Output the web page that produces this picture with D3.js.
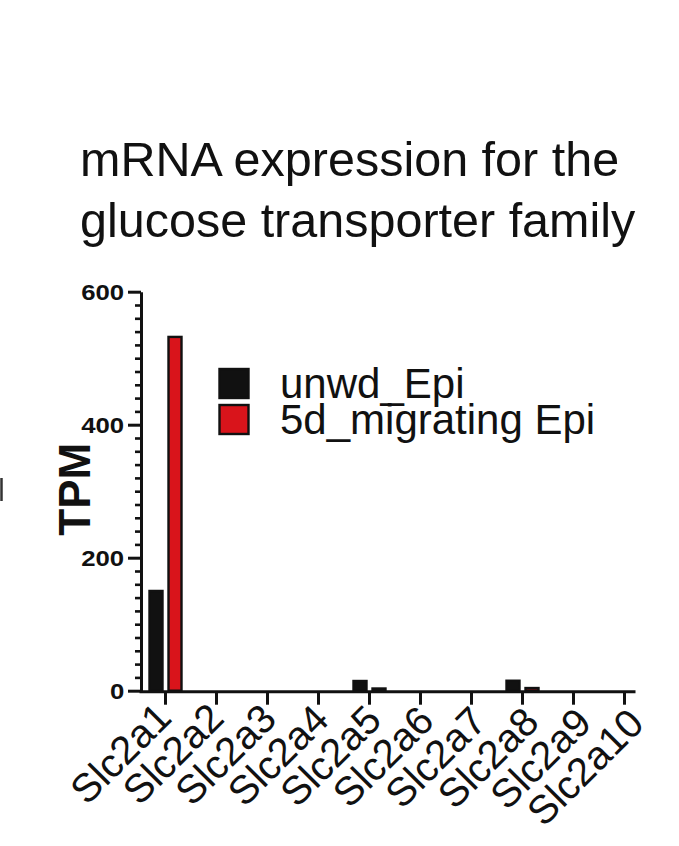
<!DOCTYPE html>
<html>
<head>
<meta charset="utf-8">
<script src="https://cdn.jsdelivr.net/npm/d3@7"></script>
<style>
  html, body { margin: 0; padding: 0; background: #fff; }
  svg { display: block; }
  text { font-family: "Liberation Sans", Arial, Helvetica, sans-serif; fill: #111; }
</style>
</head>
<body>
<svg id="chart" width="679" height="846"></svg>
<script>
const categories = ["Slc2a1","Slc2a2","Slc2a3","Slc2a4","Slc2a5","Slc2a6","Slc2a7","Slc2a8","Slc2a9","Slc2a10"];
const seriesNames = ["unwd_Epi","5d_migrating Epi"];
const unwdEpi = [150, 0, 0, 0, 14.6, 0, 0, 15, 0, 0];
const migratingEpi = [532, 0, 0, 0, 3.3, 0, 0, 4, 0, 0];
const seriesColors = ["#111111", "#d9141b"];
const yTicks = [0, 200, 400, 600];
const titleLines = ["mRNA expression for the", "glucose transporter family"];
const yLabel = "TPM";

const svg = d3.select("#chart");
const values = [unwdEpi, migratingEpi];

const plotLeft = 141, plotRight = 650, plotTop = 291.7, plotBottom = 690.7;

const x = d3.scaleBand().domain(categories).range([plotLeft - 1, plotRight]).padding(0);
const x1 = d3.scaleBand().domain(seriesNames)
  .range([x.bandwidth() / 2 - 16, x.bandwidth() / 2 + 16])
  .paddingInner(0.316).paddingOuter(0);
const y = d3.scaleLinear().domain([0, 600]).range([plotBottom, plotTop]);
// label placement scales (labels fan out slightly wider than the ticks)
const xLabel = d3.scaleBand().domain(categories).range([plotLeft - 1.75, plotLeft - 1.75 + 525]);
const yLabelOffset = d3.scaleLinear().domain([0, categories.length - 1]).range([29, 35]);

// title
svg.append("g").selectAll("text").data(titleLines).join("text")
  .attr("x", 80).attr("y", (d, i) => 176 + i * 61)
  .attr("font-size", 48.5).text(d => d);

// bars
const groups = svg.append("g").selectAll("g").data(categories).join("g")
  .attr("transform", d => `translate(${x(d)},0)`);
groups.selectAll("rect")
  .data((d, i) => seriesNames.map((s, k) => ({ s, k, v: values[k][i] })))
  .join("rect")
  .attr("x", d => x1(d.s))
  .attr("width", x1.bandwidth())
  .attr("y", d => y(d.v))
  .attr("height", d => y(0) - y(d.v))
  .attr("fill", d => seriesColors[d.k])
  .attr("stroke", "#111").attr("stroke-width", d => d.v > 0 ? 2.4 : 0);

// y axis with minor ticks
const minor = d3.range(0, 601, 20).filter(v => !yTicks.includes(v));
const yMinor = svg.append("g").attr("transform", `translate(${plotLeft},0)`)
  .call(d3.axisLeft(y).tickValues(minor).tickSize(6).tickFormat(""));
yMinor.select(".domain").remove();
yMinor.selectAll("line").attr("stroke", "#111").attr("stroke-width", 2.6);

const yAxis = svg.append("g").attr("transform", `translate(${plotLeft},0)`)
  .call(d3.axisLeft(y).tickValues(yTicks).tickSize(13).tickSizeOuter(0).tickPadding(2));
yAxis.select(".domain").attr("stroke", "#111").attr("stroke-width", 3);
yAxis.selectAll(".tick line").attr("stroke", "#111").attr("stroke-width", 3);
yAxis.selectAll(".tick text")
  .attr("font-family", "'Liberation Sans', Arial, sans-serif")
  .attr("font-weight", "bold").attr("font-size", 23).attr("fill", "#111")
  .attr("transform", "scale(1.12,1)").attr("dy", "0.36em");

// y label
svg.append("text")
  .attr("transform", `translate(90,${(plotTop + plotBottom) / 2 - 2}) rotate(-90)`)
  .attr("text-anchor", "middle").attr("font-weight", "bold").attr("font-size", 44)
  .text(yLabel);

// x axis
const xAxis = svg.append("g").attr("transform", `translate(0,${plotBottom + 1})`)
  .call(d3.axisBottom(x).tickSize(13).tickSizeOuter(0).tickFormat(""));
const lastC = x(categories[categories.length - 1]) + x.bandwidth() / 2;
xAxis.select(".domain").attr("d", `M${plotLeft - 1.5},0H${lastC + 11}`)
  .attr("stroke", "#111").attr("stroke-width", 3);
xAxis.selectAll(".tick line").attr("stroke", "#111").attr("stroke-width", 3);

// rotated category labels
svg.append("g").selectAll("text").data(categories).join("text")
  .attr("transform", (d, i) => `translate(${xLabel(d) + xLabel.bandwidth() / 2 + 8},${plotBottom + yLabelOffset(i)}) rotate(-45)`)
  .attr("text-anchor", "end").attr("font-size", 40)
  .text(d => d);

// legend
const legend = svg.append("g").selectAll("g").data(seriesNames).join("g")
  .attr("transform", (d, i) => `translate(219.5,${369 + i * 36})`);
legend.append("rect").attr("width", 29).attr("height", 29)
  .attr("fill", (d, i) => seriesColors[i]).attr("stroke", "#111").attr("stroke-width", 2.4);
legend.append("text").attr("x", 60.5).attr("y", 29).attr("font-size", 42).text(d => d);

// small cropped edge mark at the far left
svg.append("line").attr("x1", 1.5).attr("x2", 1.5).attr("y1", 478).attr("y2", 501)
  .attr("stroke", "#333").attr("stroke-width", 2.5);
</script>
</body>
</html>
